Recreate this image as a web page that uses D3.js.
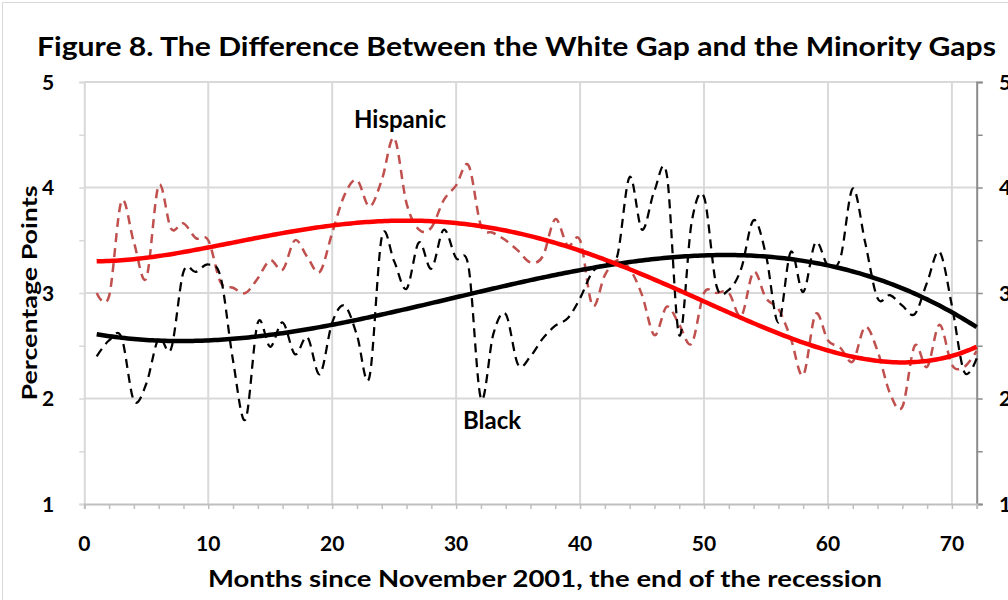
<!DOCTYPE html>
<html lang="en">
<head>
<meta charset="UTF-8">
<title>Figure 8</title>
<script src="https://cdn.jsdelivr.net/npm/d3@7"></script>
<style>
  body { margin: 0; background: #fff; }
  svg { display: block; }
  text { font-family: Lato, "Open Sans", sans-serif; font-weight: bold; fill: #000; }
</style>
</head>
<body>
<script>
'use strict';

// months since November 2001
var months = d3.range(1, 73);

var black = [2.40, 2.55, 2.58, 1.98, 2.14, 2.57, 2.47, 3.20, 3.20, 3.27,
             3.15, 2.36, 1.80, 2.72, 2.49, 2.72, 2.42, 2.58, 2.23, 2.72,
             2.88, 2.60, 2.20, 3.53, 3.30, 3.04, 3.48, 3.23, 3.60, 3.33,
             3.25, 2.00, 2.61, 2.80, 2.32, 2.40, 2.57, 2.69, 2.76, 2.95,
             3.20, 3.28, 3.35, 4.10, 3.60, 3.97, 4.12, 2.60, 3.67, 3.91,
             3.07, 3.03, 3.23, 3.69, 3.36, 2.72, 3.39, 3.01, 3.48, 3.26,
             3.33, 3.99, 3.48, 2.95, 2.98, 2.88, 2.80, 3.10, 3.39, 2.88,
             2.25, 2.38];

var hispanic = [3.00, 2.97, 3.87, 3.48, 3.14, 4.02, 3.61, 3.66, 3.52, 3.50,
                3.10, 3.05, 3.00, 3.14, 3.31, 3.22, 3.50, 3.34, 3.20, 3.57,
                3.93, 4.07, 3.82, 4.07, 4.47, 3.85, 3.60, 3.62, 3.88, 4.02,
                4.21, 3.64, 3.57, 3.50, 3.40, 3.29, 3.35, 3.70, 3.45, 3.50,
                2.88, 3.17, 3.31, 3.23, 2.98, 2.60, 2.87, 2.70, 2.52, 3.00,
                3.00, 3.00, 2.78, 3.20, 2.95, 2.85, 2.57, 2.22, 2.80, 2.55,
                2.48, 2.35, 2.68, 2.45, 2.05, 1.92, 2.50, 2.30, 2.70, 2.32,
                2.30, 2.45];

// polynomial trendline orders
var blackOrder = 3;
var hispanicOrder = 4;

var xTicks = [0, 10, 20, 30, 40, 50, 60, 70];
var yTicks = [1, 2, 3, 4, 5];

var w = 1008, h = 600;
var pl = 84.3, pr = 976.7, pt = 82, pb = 504;

var svg = d3.select('body').append('svg')
    .attr('width', w)
    .attr('height', h);

// chart area frame
svg.append('rect')
    .attr('x', 2.5).attr('y', 2.5)
    .attr('width', w + 100).attr('height', h + 100)
    .attr('fill', '#fff')
    .attr('stroke', '#d9d9d9');

var x = d3.scaleLinear().domain([0, 72]).range([pl, pr]);
var y = d3.scaleLinear().domain([1, 5]).range([pb, pt]);

// gridlines
svg.append('g').selectAll('line')
    .data(yTicks.slice(1))
    .enter().append('line')
    .attr('x1', pl).attr('x2', pr)
    .attr('y1', d => y(d)).attr('y2', d => y(d))
    .attr('stroke', '#d9d9d9').attr('stroke-width', 2);

svg.append('g').selectAll('line')
    .data(xTicks.slice(1))
    .enter().append('line')
    .attr('x1', d => x(d)).attr('x2', d => x(d))
    .attr('y1', pt).attr('y2', pb)
    .attr('stroke', '#d9d9d9').attr('stroke-width', 2);

// left axis
var axL = d3.axisLeft(y).tickValues(d3.range(1, 5.01, 0.5)).tickSize(5).tickFormat('');
var gL = svg.append('g').attr('transform', 'translate(' + pl + ',0)').call(axL);
gL.select('.domain').attr('stroke', '#d9d9d9').attr('stroke-width', 2);
gL.selectAll('.tick line').attr('stroke', '#d9d9d9').attr('stroke-width', 1.5);

svg.append('g').selectAll('text')
    .data(yTicks)
    .enter().append('text')
    .attr('x', 48).attr('y', d => y(d))
    .attr('dy', '0.36em')
    .attr('text-anchor', 'middle')
    .style('font-size', '21px')
    .text(d => d);

// right axis (labels run off the edge, as in the original)
var axR = d3.axisRight(y).tickValues(d3.range(1, 5.01, 0.5)).tickSize(6).tickFormat('');
var gR = svg.append('g').attr('transform', 'translate(' + pr + ',0)').call(axR);
gR.select('.domain').attr('stroke', '#8c8c8c').attr('stroke-width', 2);
gR.selectAll('.tick line').attr('stroke', '#8c8c8c').attr('stroke-width', 1.5);

svg.append('g').selectAll('text')
    .data(yTicks)
    .enter().append('text')
    .attr('x', 999).attr('y', d => y(d))
    .attr('dy', '0.36em')
    .style('font-size', '21px')
    .text(d => d);

// bottom axis
var axB = d3.axisBottom(x).tickValues(d3.range(0, 72.1, 2)).tickSize(5).tickFormat('');
var gB = svg.append('g').attr('transform', 'translate(0,' + pb + ')').call(axB);
gB.select('.domain').attr('stroke', '#bfbfbf').attr('stroke-width', 2);
gB.selectAll('.tick line').attr('stroke', '#bfbfbf').attr('stroke-width', 1.5);

svg.append('g').selectAll('text')
    .data(xTicks)
    .enter().append('text')
    .attr('x', d => x(d)).attr('y', 551)
    .attr('text-anchor', 'middle')
    .style('font-size', '21px')
    .text(d => d);

// least squares polynomial trend, like the spreadsheet's trendline
function polyFit(xs, ys, order) {
    var mid = (xs[0] + xs[xs.length - 1]) / 2,
        half = (xs[xs.length - 1] - xs[0]) / 2,
        n = order + 1, A = [], b = [], i, j, k;
    for (i = 0; i < n; i++) { A.push(new Array(n).fill(0)); b.push(0); }
    xs.forEach(function(xv, r) {
        var t = (xv - mid) / half, p = [];
        for (i = 0; i < n; i++) p.push(Math.pow(t, i));
        for (i = 0; i < n; i++) {
            for (j = 0; j < n; j++) A[i][j] += p[i] * p[j];
            b[i] += p[i] * ys[r];
        }
    });
    for (i = 0; i < n; i++) {
        for (k = i + 1; k < n; k++) {
            var f = A[k][i] / A[i][i];
            for (j = i; j < n; j++) A[k][j] -= f * A[i][j];
            b[k] -= f * b[i];
        }
    }
    var c = new Array(n).fill(0);
    for (i = n - 1; i >= 0; i--) {
        var s = b[i];
        for (j = i + 1; j < n; j++) s -= A[i][j] * c[j];
        c[i] = s / A[i][i];
    }
    return function(xv) {
        var t = (xv - mid) / half, s = 0;
        for (var q = n - 1; q >= 0; q--) s = s * t + c[q];
        return s;
    };
}

var smooth = d3.line()
    .x(d => x(d[0]))
    .y(d => y(d[1]))
    .curve(d3.curveCardinal.tension(0));

var straight = d3.line()
    .x(d => x(d[0]))
    .y(d => y(d[1]));

var plot = svg.append('g');

plot.append('path')
    .datum(months.map((m, i) => [m, hispanic[i]]))
    .attr('d', smooth)
    .attr('fill', 'none')
    .attr('stroke', '#c0504d')
    .attr('stroke-width', 2.5)
    .attr('stroke-dasharray', '9,6');

plot.append('path')
    .datum(months.map((m, i) => [m, black[i]]))
    .attr('d', smooth)
    .attr('fill', 'none')
    .attr('stroke', '#000')
    .attr('stroke-width', 2.25)
    .attr('stroke-dasharray', '9,6');

var fine = d3.range(1, 72.01, 0.25);
var blackTrend = polyFit(months, black, blackOrder);
var hispTrend = polyFit(months, hispanic, hispanicOrder);

plot.append('path')
    .datum(fine.map(m => [m, blackTrend(m)]))
    .attr('d', straight)
    .attr('fill', 'none')
    .attr('stroke', '#000')
    .attr('stroke-width', 4.5);

plot.append('path')
    .datum(fine.map(m => [m, hispTrend(m)]))
    .attr('d', straight)
    .attr('fill', 'none')
    .attr('stroke', '#ff0000')
    .attr('stroke-width', 4.5);

// series labels
svg.append('text')
    .attr('x', 400).attr('y', 128)
    .attr('text-anchor', 'middle')
    .style('font-size', '24px')
    .text('Hispanic');

svg.append('text')
    .attr('x', 492).attr('y', 429)
    .attr('text-anchor', 'middle')
    .style('font-size', '24px')
    .text('Black');

// titles
svg.append('text')
    .attr('x', 37).attr('y', 56)
    .attr('textLength', 959)
    .attr('lengthAdjust', 'spacingAndGlyphs')
    .style('font-size', '27px')
    .text('Figure 8. The Difference Between the White Gap and the Minority Gaps');

svg.append('text')
    .attr('x', 208).attr('y', 587)
    .attr('textLength', 674)
    .attr('lengthAdjust', 'spacingAndGlyphs')
    .style('font-size', '23px')
    .text('Months since November 2001, the end of the recession');

svg.append('text')
    .attr('transform', 'translate(37,293) rotate(-90)')
    .attr('text-anchor', 'middle')
    .attr('textLength', 215)
    .attr('lengthAdjust', 'spacingAndGlyphs')
    .style('font-size', '21px')
    .text('Percentage Points');
</script>
</body>
</html>
